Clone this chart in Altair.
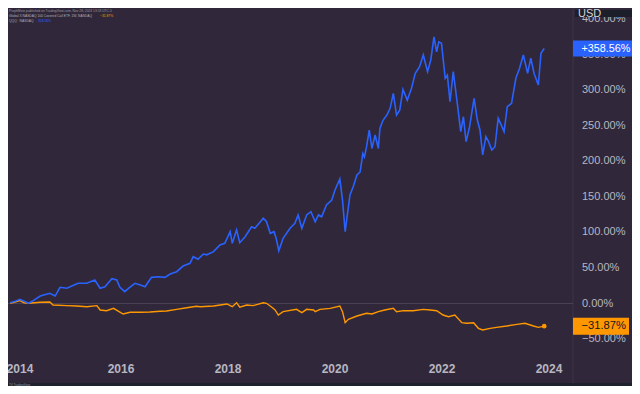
import altair as alt
import pandas as pd

# ---------------- data ----------------
qqq_years = [2013.93, 2014.02, 2014.11, 2014.17, 2014.27, 2014.36, 2014.49, 2014.67, 2014.77, 2014.86,
             2014.99, 2015.08, 2015.20, 2015.36, 2015.51, 2015.61, 2015.70, 2015.83, 2015.92, 2015.98,
             2016.07, 2016.14, 2016.26, 2016.36, 2016.45, 2016.57, 2016.70, 2016.82, 2016.92, 2017.04,
             2017.16, 2017.29, 2017.35, 2017.44, 2017.54, 2017.60, 2017.73, 2017.85, 2017.94, 2018.04,
             2018.08, 2018.16, 2018.22, 2018.32, 2018.44, 2018.50, 2018.57, 2018.66, 2018.72, 2018.79,
             2018.86, 2018.90, 2018.95, 2019.03, 2019.16, 2019.25, 2019.31, 2019.38, 2019.47, 2019.55,
             2019.63, 2019.69, 2019.75, 2019.84, 2019.94, 2020.00, 2020.09, 2020.14, 2020.19, 2020.23,
             2020.28, 2020.34, 2020.41, 2020.47, 2020.52, 2020.55, 2020.59, 2020.64, 2020.69, 2020.75,
             2020.81, 2020.84, 2020.90, 2020.97, 2021.03, 2021.09, 2021.15, 2021.21, 2021.27, 2021.35,
             2021.43, 2021.50, 2021.58, 2021.65, 2021.73, 2021.79, 2021.85, 2021.90, 2021.94, 2021.99,
             2022.06, 2022.10, 2022.15, 2022.21, 2022.27, 2022.35, 2022.40, 2022.45, 2022.51, 2022.60,
             2022.66, 2022.71, 2022.76, 2022.82, 2022.87, 2022.93, 2022.99, 2023.05, 2023.12, 2023.16,
             2023.22, 2023.30, 2023.38, 2023.45, 2023.52, 2023.60, 2023.66, 2023.72, 2023.80, 2023.85,
             2023.91]
qqq_values = [1.0, 3.0, 5.9, 4.0, 0.3, 4.0, 10.5, 14.3, 10.5, 22.8,
              21.4, 24.6, 28.4, 28.4, 33.0, 21.4, 23.6, 34.9, 33.0, 22.8,
              16.6, 21.4, 28.4, 26.0, 23.6, 36.8, 37.7, 36.8, 41.5, 44.7,
              52.7, 56.5, 65.8, 62.2, 69.6, 68.5, 72.9, 82.3, 84.7, 101.0,
              84.7, 103.4, 85.5, 94.0, 108.0, 105.8, 111.8, 119.8, 115.0, 98.7,
              101.0, 91.7, 74.3, 91.7, 105.8, 112.8, 124.5, 105.8, 124.5, 129.1,
              115.0, 124.5, 122.0, 138.5, 145.6, 159.6, 175.0, 145.6, 101.0, 124.5,
              152.6, 164.3, 180.7, 185.0, 211.0, 206.0, 220.5, 244.0, 218.0, 237.0,
              218.0, 246.4, 258.0, 265.0, 274.5, 295.6, 265.0, 272.0, 301.0, 286.0,
              302.7, 323.8, 333.0, 349.5, 326.0, 342.5, 375.0, 354.0, 368.0, 366.0,
              316.7, 321.0, 283.8, 326.0, 290.8, 241.6, 262.7, 227.6, 246.4, 288.6,
              258.0, 244.0, 208.9, 234.6, 227.6, 215.9, 220.5, 260.5, 248.7, 241.6,
              276.8, 281.6, 316.7, 330.8, 349.5, 323.8, 344.9, 323.8, 307.3, 351.9,
              358.56]

qyld_years = [2013.93, 2014.02, 2014.11, 2014.19, 2014.27, 2014.49, 2014.67, 2014.73, 2014.99, 2015.17,
              2015.36, 2015.55, 2015.61, 2015.73, 2015.86, 2016.04, 2016.17, 2016.36, 2016.54, 2016.73,
              2016.85, 2017.04, 2017.23, 2017.41, 2017.48, 2017.73, 2017.98, 2018.08, 2018.16, 2018.22,
              2018.35, 2018.47, 2018.66, 2018.72, 2018.82, 2018.88, 2018.94, 2019.03, 2019.28, 2019.38,
              2019.47, 2019.60, 2019.63, 2019.72, 2019.91, 2020.09, 2020.14, 2020.19, 2020.25, 2020.41,
              2020.59, 2020.69, 2020.81, 2020.93, 2021.09, 2021.15, 2021.28, 2021.46, 2021.65, 2021.78,
              2021.90, 2022.02, 2022.12, 2022.24, 2022.37, 2022.46, 2022.59, 2022.68, 2022.76, 2022.90,
              2023.02, 2023.21, 2023.40, 2023.55, 2023.71, 2023.80, 2023.91]
qyld_values = [0.3, 2.1, 4.0, 1.1, 0.3, 1.7, 2.1, -2.1, -3.0, -3.5,
               -4.5, -3.0, -9.1, -10.1, -6.8, -14.8, -12.4, -12.4, -12.0, -11.0,
               -10.5, -8.2, -5.9, -3.9, -4.5, -3.5, -0.7, -4.5, 1.1, -5.3,
               -2.1, -3.0, 1.1, 0.3, -5.3, -9.1, -16.2, -11.5, -8.2, -12.9,
               -8.2, -9.1, -11.5, -8.2, -6.8, -3.5, -11.5, -27.0, -22.2, -17.6,
               -13.8, -14.8, -11.5, -9.1, -6.8, -11.5, -10.1, -10.1, -8.2, -9.1,
               -10.1, -16.2, -18.5, -16.2, -27.0, -27.8, -27.0, -34.9, -37.3, -34.9,
               -33.5, -31.6, -29.3, -27.8, -31.6, -33.5, -31.87]

y_ticks = [400, 350, 300, 250, 200, 150, 100, 50, 0, -50]
x_ticks = [2014, 2016, 2018, 2020, 2022, 2024]
qqq_last = 358.56
qyld_last = -31.87

header = "ProphMoto published on TradingView.com, Nov 28, 2023 13:59 UTC-5"
legend1 = "Global X NASDAQ 100 Covered Call ETF, 1W, NASDAQ"
legend2 = "QQQ · NASDAQ"

# ---------------- style ----------------
BG = "#30283a"
FRAME = "#1e222d"
BLUE = "#2962ff"
ORANGE = "#ff9800"
LABEL = "#b8b6c0"
FONT = "Liberation Sans"
W, H = 624, 378

xs = alt.Scale(domain=[2013.888, 2025.551], nice=False, zero=False)
ys = alt.Scale(domain=[-116.03, 415.6], nice=False, zero=False)

def fmt(v, plus=False):
    s = f"{abs(v):.2f}%"
    if v < 0:
        return "\u2212" + s
    return ("+" + s) if plus else s

one = pd.DataFrame({"a": [0]})

bottom_strip = alt.Chart(one).mark_rect(color=FRAME).encode(
    x=alt.value(0), x2=alt.value(W), y=alt.value(375), y2=alt.value(H))
sep = alt.Chart(one).mark_rule(color="#3c3447", strokeWidth=1).encode(
    x=alt.value(565), y=alt.value(0), y2=alt.value(375))
zero_line = alt.Chart(pd.DataFrame({"v": [0]})).mark_rule(color="#4a4254", strokeWidth=1).encode(
    y=alt.Y("v:Q", scale=ys, axis=None), x=alt.value(0), x2=alt.value(565))

df_q = pd.DataFrame({"year": qqq_years, "value": qqq_values})
df_y = pd.DataFrame({"year": qyld_years, "value": qyld_values})

line_q = alt.Chart(df_q).mark_line(color=BLUE, strokeWidth=1.6).encode(
    x=alt.X("year:Q", scale=xs, axis=None), y=alt.Y("value:Q", scale=ys, axis=None))
line_y = alt.Chart(df_y).mark_line(color=ORANGE, strokeWidth=1.4).encode(
    x=alt.X("year:Q", scale=xs, axis=None), y=alt.Y("value:Q", scale=ys, axis=None))
dot_y = alt.Chart(df_y.tail(1)).mark_circle(color=ORANGE, size=22, opacity=1).encode(
    x=alt.X("year:Q", scale=xs, axis=None), y=alt.Y("value:Q", scale=ys, axis=None))

df_ticks = pd.DataFrame({"v": y_ticks, "label": [fmt(v) for v in y_ticks]})
y_labels = alt.Chart(df_ticks).mark_text(
    align="left", baseline="middle", font=FONT, fontSize=11, color=LABEL).encode(
    x=alt.value(574), y=alt.Y("v:Q", scale=ys, axis=None), text="label:N")

df_years = pd.DataFrame({"year": x_ticks, "label": [str(y) for y in x_ticks],
                         "shift": [6] + [0] * (len(x_ticks) - 1)})
x_labels = alt.Chart(df_years).transform_calculate(
    xpos=f"scale('x', datum.year) + datum.shift"
).mark_text(
    align="center", baseline="middle", font=FONT, fontSize=12, fontWeight="bold", color=LABEL).encode(
    x=alt.X("year:Q", scale=xs, axis=None), y=alt.value(361), text="label:N")
x_first = alt.Chart(df_years.head(1)).mark_text(
    align="center", baseline="middle", font=FONT, fontSize=12, fontWeight="bold", color=LABEL, dx=6).encode(
    x=alt.X("year:Q", scale=xs, axis=None), y=alt.value(361), text="label:N")
x_rest = alt.Chart(df_years.iloc[1:]).mark_text(
    align="center", baseline="middle", font=FONT, fontSize=12, fontWeight="bold", color=LABEL).encode(
    x=alt.X("year:Q", scale=xs, axis=None), y=alt.value(361), text="label:N")

df_qb = pd.DataFrame({"v": [qqq_last], "lo": [qqq_last - 11.25], "hi": [qqq_last + 11.25],
                      "label": [fmt(qqq_last, plus=True)]})
df_yb = pd.DataFrame({"v": [qyld_last], "lo": [qyld_last - 12.0], "hi": [qyld_last + 12.0],
                      "label": [fmt(qyld_last)]})
box_q = alt.Chart(df_qb).mark_rect(color=BLUE).encode(
    x=alt.value(565), x2=alt.value(W), y=alt.Y("hi:Q", scale=ys, axis=None), y2="lo:Q")
box_qt = alt.Chart(df_qb).mark_text(align="left", baseline="middle", font=FONT, fontSize=10.8,
                                    color="#ffffff").encode(
    x=alt.value(573.5), y=alt.Y("v:Q", scale=ys, axis=None), text="label:N")
box_y = alt.Chart(df_yb).mark_rect(color=ORANGE).encode(
    x=alt.value(565), x2=alt.value(621), y=alt.Y("hi:Q", scale=ys, axis=None), y2="lo:Q")
box_yt = alt.Chart(df_yb).mark_text(align="left", baseline="middle", font=FONT, fontSize=11.2,
                                    color="#131722").encode(
    x=alt.value(573.5), y=alt.Y("v:Q", scale=ys, axis=None), text="label:N")

usd_box = alt.Chart(one).mark_rect(color="#1c1f2a").encode(
    x=alt.value(567), x2=alt.value(W), y=alt.value(2), y2=alt.value(9))
usd = alt.Chart(pd.DataFrame({"t": ["USD"]})).mark_text(
    align="left", baseline="middle", font=FONT, fontSize=11, color="#d1d4dc").encode(
    x=alt.value(570), y=alt.value(5.5), text="t:N")

SMALL = 3.3
hdr = alt.Chart(pd.DataFrame({"t": [header]})).mark_text(
    align="left", baseline="middle", font=FONT, fontSize=SMALL, color="#9a98a2").encode(
    x=alt.value(1), y=alt.value(2.5), text="t:N")
leg1 = alt.Chart(pd.DataFrame({"t": [legend1]})).mark_text(
    align="left", baseline="middle", font=FONT, fontSize=SMALL, color="#b0aeb8").encode(
    x=alt.value(1), y=alt.value(7.5), text="t:N")
leg1v = alt.Chart(pd.DataFrame({"t": [fmt(qyld_last)]})).mark_text(
    align="left", baseline="middle", font=FONT, fontSize=SMALL, color=ORANGE).encode(
    x=alt.value(92), y=alt.value(7.5), text="t:N")
leg2 = alt.Chart(pd.DataFrame({"t": [legend2]})).mark_text(
    align="left", baseline="middle", font=FONT, fontSize=SMALL, color="#b0aeb8").encode(
    x=alt.value(1), y=alt.value(12.5), text="t:N")
leg2v = alt.Chart(pd.DataFrame({"t": [fmt(qqq_last)]})).mark_text(
    align="left", baseline="middle", font=FONT, fontSize=SMALL, color=BLUE).encode(
    x=alt.value(30), y=alt.value(12.5), text="t:N")
wm = alt.Chart(pd.DataFrame({"t": ["TV TradingView"]})).mark_text(
    align="left", baseline="middle", font=FONT, fontSize=3, color="#9a98a2").encode(
    x=alt.value(1), y=alt.value(376.5), text="t:N")

chart = alt.layer(
    bottom_strip, sep, zero_line,
    line_y, line_q, dot_y,
    y_labels, box_q, box_qt, box_y, box_yt, usd_box, usd,
    x_first, x_rest, hdr, leg1, leg1v, leg2, leg2v, wm,
).properties(
    width=W, height=H, padding=0, background=BG,
    autosize=alt.AutoSizeParams(type="none")
).configure_view(strokeWidth=0)

chart.save("out.html", embed_options={"renderer": "svg", "actions": False})
